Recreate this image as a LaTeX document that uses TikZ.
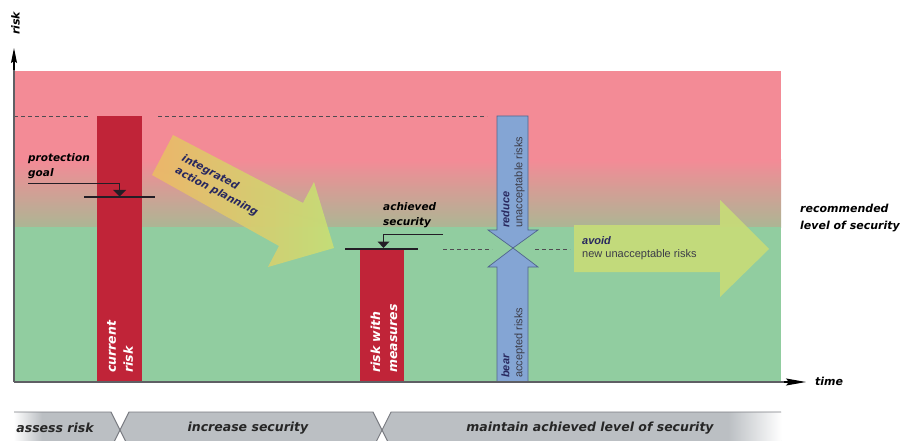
\documentclass[tikz,border=0pt]{standalone}
\usepackage{fontspec}
\setmainfont{DejaVu Sans}
\newfontfamily\arialf{Liberation Sans}
\usetikzlibrary{arrows.meta}
\definecolor{pinkc}{RGB}{243,139,150}
\definecolor{midc}{RGB}{172,182,148}
\definecolor{greenc}{RGB}{145,205,160}
\definecolor{redbar}{RGB}{192,36,56}
\definecolor{bluec}{RGB}{132,165,212}
\definecolor{blueline}{RGB}{80,100,140}
\definecolor{bandc}{RGB}{187,191,195}
\definecolor{bandline}{RGB}{120,122,128}
\definecolor{navy}{RGB}{40,40,95}
\definecolor{txtgray}{RGB}{60,60,72}
\definecolor{yelA}{RGB}{236,184,104}
\definecolor{yelB}{RGB}{198,222,118}
\definecolor{avoidc}{RGB}{200,220,120}
\definecolor{axisc}{RGB}{95,95,100}
\definecolor{linec}{RGB}{35,30,38}
\begin{document}
\begin{tikzpicture}[x=1pt,y=-1pt,
  bi/.style={font=\fontsize{10.5}{15}\selectfont\bfseries\itshape, inner sep=0pt, align=left, text=black},
  bandtxt/.style={font=\fontsize{12.5}{15}\selectfont\bfseries\itshape, inner sep=0pt, text=black!85},
  bartxt/.style={font=\fontsize{12.5}{17}\selectfont\bfseries\itshape, inner sep=0pt, align=left, text=white, rotate=90, anchor=west},
  arrtxt/.style={font=\arialf\fontsize{11}{13}\selectfont, inner sep=0pt, align=left, text=txtgray},
  dashline/.style={draw=linec!80, line width=0.7pt, dash pattern=on 4pt off 3pt},
  leader/.style={draw=linec, line width=0.8pt},
  goalbar/.style={draw=linec, line width=1.3pt},
  bluearrow/.style={fill=bluec, draw=blueline, line width=0.7pt, line join=miter},
  bandedge/.style={draw=bandline, line width=0.9pt}
]
\useasboundingbox (0,0) rectangle (903,441);
% background zones
\fill[pinkc] (14,71) rectangle (781,161);
\shade[top color=pinkc, bottom color=midc] (14,160) rectangle (781,227);
\fill[greenc] (14,227) rectangle (781,382);
% dashed reference lines
\draw[dashline] (14,116) -- (88,116);
\draw[dashline] (158,116) -- (487,116);
\draw[dashline] (443,249) -- (492,249);
\draw[dashline] (535,249) -- (570,249);
% red bars
\fill[redbar] (97,116) rectangle (142,382);
\fill[redbar] (360,249) rectangle (404,382);
\node[bartxt] (cur) at (120,373) {current\\risk};
\node[bartxt] (meas) at (384,373) {risk with\\measures};
% protection goal
\node[bi, anchor=west] (pg) at (28,166.5) {protection\\goal};
\coordinate (pgA) at (28,183);
\coordinate (pgB) at (119,183);
\coordinate (pgC) at (119,190);
\draw[leader] (pgA) -- (pgB) -- (pgC);
\fill[linec] (113,190) -- (126,190) -- (119.5,196.5) -- cycle;
\draw[goalbar] (84,197) -- (155,197);
% integrated action planning arrow
\shade[left color=yelA, right color=yelB, opacity=0.95]
  (173,135) -- (303,203) -- (314,182) -- (334,248) -- (268,267) -- (279,246) -- (152,175) -- cycle;
\node[font=\fontsize{10.5}{14}\selectfont\bfseries\itshape, text=navy, inner sep=0pt, align=left, rotate=-28, anchor=west] (iap) at (179,164) {integrated\\action planning};
% achieved security
\node[bi, anchor=west] (ach) at (383,215.5) {achieved\\security};
\coordinate (acA) at (443,234);
\coordinate (acB) at (383.5,234);
\coordinate (acC) at (383.5,242);
\draw[leader] (acA) -- (acB) -- (acC);
\fill[linec] (377.5,241.5) -- (389.5,241.5) -- (383.5,248) -- cycle;
\draw[goalbar] (345,249) -- (418,249);
% blue double arrow
\draw[bluearrow] (497,116) -- (528,116) -- (528,230) -- (538,230) -- (513,248) -- (488,230) -- (497,230) -- cycle;
\draw[bluearrow] (513,248) -- (538,267) -- (528,267) -- (528,382) -- (497,382) -- (497,267) -- (488,267) -- cycle;
\node[arrtxt, rotate=90, anchor=west] (red) at (513,228) {{\bfseries\itshape\color{navy}reduce}\\unacceptable risks};
\node[arrtxt, rotate=90, anchor=west] (bear) at (513,378) {{\bfseries\itshape\color{navy}bear}\\accepted risks};
% avoid arrow
\fill[avoidc, opacity=0.9] (574,225) -- (720,225) -- (720,200) -- (769,249) -- (720,297) -- (720,272) -- (574,272) -- cycle;
\node[arrtxt, anchor=west] (avoid) at (582,248) {{\bfseries\itshape\color{navy}avoid}\\new unacceptable risks};
% labels right
\node[font=\fontsize{11}{17}\selectfont\bfseries\itshape, inner sep=0pt, align=left, anchor=west] (rec) at (800,218.5) {recommended\\level of security};
% axes
\coordinate (org) at (14,382);
\coordinate (ytip) at (14,48);
\coordinate (xtip) at (806,382);
\draw[axisc, line width=1.3pt] (org) -- (14,62);
\draw[axisc, line width=1.3pt] (org) -- (787,382);
\draw[-{Stealth[length=15pt,width=6pt,inset=2pt]}, line width=1.2pt, black] (14,70) -- (ytip);
\draw[-{Stealth[length=20pt,width=7pt,inset=3pt]}, line width=1.2pt, black] (784,382) -- (xtip);
\node[font=\fontsize{11}{13}\selectfont\bfseries\itshape, inner sep=0pt, rotate=90, anchor=west] (risk) at (15.5,35) {risk};
\node[font=\fontsize{11}{13}\selectfont\bfseries\itshape, inner sep=0pt, anchor=west] (time) at (815,381) {time};
% bottom phase band
\begin{scope}
\clip (0,405) rectangle (903,441);
\fill[bandc] (14,412) -- (111,412) -- (120,430) -- (111,448) -- (14,448) -- cycle;
\fill[bandc] (120,430) -- (129,412) -- (373,412) -- (382,430) -- (373,448) -- (129,448) -- cycle;
\fill[bandc] (382,430) -- (391,412) -- (781,412) -- (781,448) -- (391,448) -- cycle;
\shade[left color=white, right color=bandc] (13.5,412) rectangle (42,448);
\shade[left color=bandc, right color=white] (728,412) rectangle (781.5,448);
\draw[bandedge] (14,412) -- (111,412) -- (120,430) -- (111,448);
\draw[bandedge] (129,448) -- (120,430) -- (129,412) -- (373,412) -- (382,430) -- (373,448);
\draw[bandedge] (391,448) -- (382,430) -- (391,412) -- (781,412);
\end{scope}
\node[bandtxt] (p1) at (55,428) {assess risk};
\node[bandtxt] (p2) at (248,428) {increase security};
\node[bandtxt] (p3) at (590,428) {maintain achieved level of security};
\end{tikzpicture}
\end{document}
